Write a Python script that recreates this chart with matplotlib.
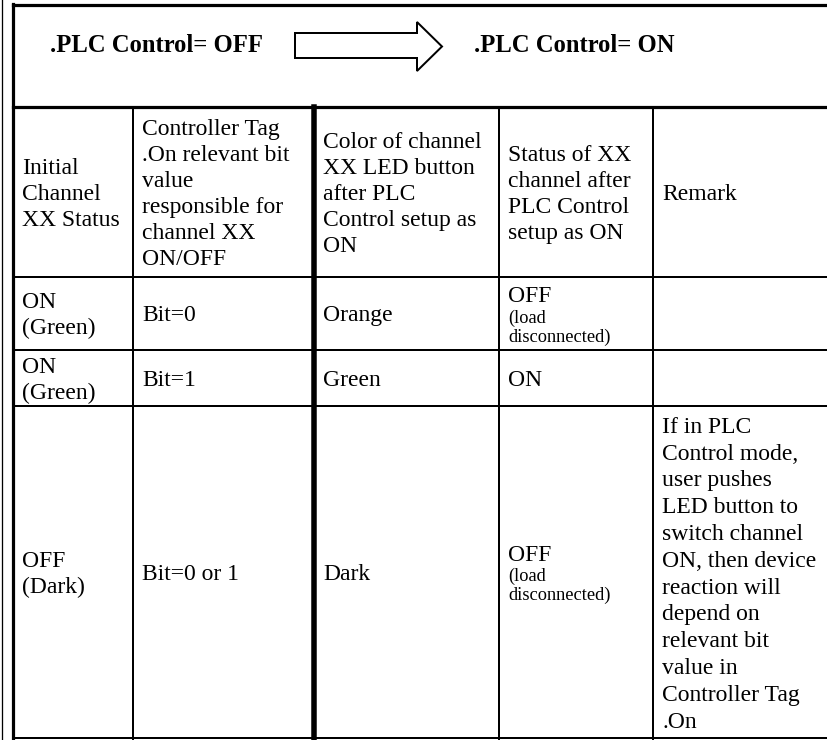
"""PLC control truth table rendered as a matplotlib figure."""

from __future__ import annotations

import matplotlib

matplotlib.use("Agg", force=True)
import matplotlib.pyplot as plt
from matplotlib.patches import Polygon

TITLE_LEFT = ".PLC Control= OFF"
TITLE_RIGHT = ".PLC Control= ON"

COLUMN_HEADERS = [
    "Initial\nChannel\nXX Status",
    "Controller Tag\n.On relevant bit\nvalue\nresponsible for\nchannel XX\nON/OFF",
    "Color of channel\nXX LED button\nafter PLC\nControl setup as\nON",
    "Status of XX\nchannel after\nPLC Control\nsetup as ON",
    "Remark",
]
INITIAL_STATUS = ["ON\n(Green)", "ON\n(Green)", "OFF\n(Dark)"]
TAG_BITS = ["Bit=0", "Bit=1", "Bit=0 or 1"]
LED_COLORS = ["Orange", "Green", "Dark"]
CHANNEL_STATUS = ["OFF", "ON", "OFF"]
STATUS_NOTES = ["(load\ndisconnected)", "", "(load\ndisconnected)"]
REMARKS = [
    "",
    "",
    "If in PLC\nControl mode,\nuser pushes\nLED button to\nswitch channel\nON, then device\n"
    "reaction will\ndepend on\nrelevant bit\nvalue in\nController Tag\n.On",
]

FONT = "Liberation Serif"
BODY_PT, NOTE_PT = 17.0, 13.2
BODY_LINE, NOTE_LINE, REMARK_LINE = 26.0, 19.0, 26.8
PX = 72 / 100  # points per pixel at dpi 100

COL_X = [13, 133, 314, 499, 653, 827]
ROW_Y = [106.5, 277, 350, 406, 738]
TEXT_PAD = 9


def _cell(ax, col: int, row: int, lines: list[tuple[str, float, float]]) -> None:
    """Stack text lines vertically centred in a table cell."""
    top_y, bot_y = ROW_Y[row], ROW_Y[row + 1]
    height = sum(step for _, _, step in lines)
    y = (top_y + bot_y) / 2 - height / 2
    for text, size, step in lines:
        ax.text(COL_X[col] + TEXT_PAD, y + 0.805 * step, text, fontsize=size,
                family=FONT, va="baseline", ha="left")
        y += step


def _body(text: str, step: float = BODY_LINE) -> list[tuple[str, float, float]]:
    return [(t, BODY_PT, step) for t in text.split("\n")] if text else []


def _note(text: str) -> list[tuple[str, float, float]]:
    return [(t, NOTE_PT, NOTE_LINE) for t in text.split("\n")] if text else []


def main() -> None:
    fig = plt.figure(figsize=(8.27, 7.40), dpi=100)
    ax = fig.add_axes([0, 0, 1, 1])
    ax.set_xlim(0, 827)
    ax.set_ylim(740, 0)
    ax.axis("off")

    thin, thick, heavy = 2 * PX, 3.2 * PX, 5.5 * PX
    # outer frame
    ax.plot([1.5, 1.5], [0, 740], color="black", lw=1.3 * PX)
    ax.plot([COL_X[0], COL_X[0]], [3.5, 740], color="black", lw=thick)
    ax.plot([COL_X[0], 827], [5, 5], color="black", lw=thick)
    ax.plot([COL_X[0], 827], [ROW_Y[0], ROW_Y[0]], color="black", lw=thick)
    for y in ROW_Y[1:]:
        ax.plot([COL_X[0], 827], [y, y], color="black", lw=thin)
    for i, x in enumerate(COL_X[1:-1], start=1):
        ax.plot([x, x], [ROW_Y[0], ROW_Y[-1] + 1], color="black", lw=heavy if i == 2 else thin)

    # title band
    ax.text(50, 52, TITLE_LEFT, fontsize=17.7, family=FONT, weight="bold", va="baseline")
    ax.text(474, 52, TITLE_RIGHT, fontsize=17.7, family=FONT, weight="bold", va="baseline")
    arrow = Polygon([(295, 33), (417, 33), (417, 22), (442, 46.5), (417, 71), (417, 58), (295, 58)],
                    closed=True, facecolor="white", edgecolor="black", lw=2 * PX, joinstyle="miter")
    ax.add_patch(arrow)

    for col, text in enumerate(COLUMN_HEADERS):
        _cell(ax, col, 0, _body(text))
    for row in range(len(TAG_BITS)):
        _cell(ax, 0, row + 1, _body(INITIAL_STATUS[row]))
        _cell(ax, 1, row + 1, _body(TAG_BITS[row]))
        _cell(ax, 2, row + 1, _body(LED_COLORS[row]))
        _cell(ax, 3, row + 1, _body(CHANNEL_STATUS[row]) + _note(STATUS_NOTES[row]))
        _cell(ax, 4, row + 1, _body(REMARKS[row], REMARK_LINE))

    fig.savefig("out.png", dpi=100)
    plt.close(fig)


if __name__ == "__main__":
    main()
